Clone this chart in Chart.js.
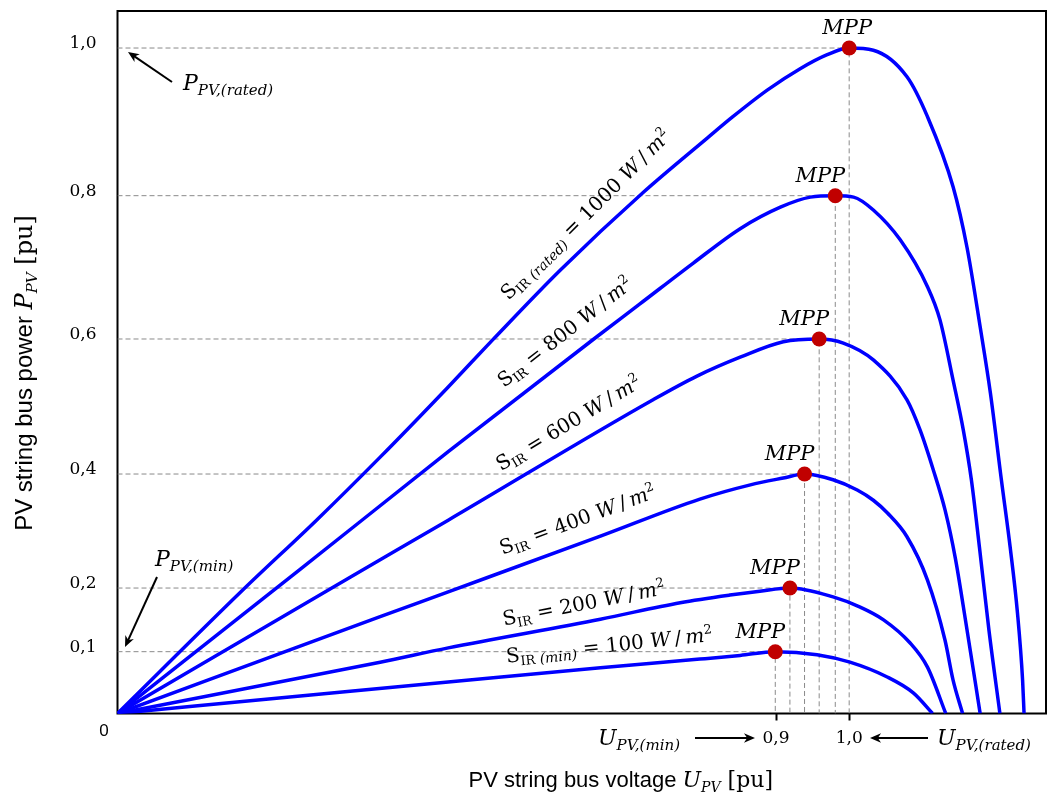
<!DOCTYPE html>
<html>
<head>
<meta charset="utf-8">
<title>PV string P-U curves</title>
<script src="https://cdn.jsdelivr.net/npm/chart.js@4.4.0/dist/chart.umd.min.js"></script>
<style>
  html, body { margin: 0; padding: 0; background: #fff; }
  canvas { display: block; }
</style>
</head>
<body>
<canvas id="pvChart" width="1048" height="799"></canvas>
<script>
// P-U curves of a PV string (voltage and power in pu)
const voltage1000 = [0, 0.174, 0.272, 0.359, 0.452, 0.513, 0.605, 0.718, 0.806, 0.841, 0.888, 0.933, 0.970, 1.000, 1.033, 1.079, 1.107, 1.142, 1.161, 1.179, 1.193, 1.208, 1.220, 1.230, 1.237, 1.239];
const power1000   = [0, 0.200, 0.319, 0.425, 0.529, 0.599, 0.696, 0.804, 0.878, 0.907, 0.943, 0.972, 0.991, 1.000, 0.997, 0.961, 0.907, 0.812, 0.728, 0.617, 0.520, 0.390, 0.272, 0.161, 0.054, 0];

const voltage800 = [0, 0.250, 0.452, 0.651, 0.714, 0.787, 0.851, 0.906, 0.947, 0.981, 1.006, 1.033, 1.070, 1.107, 1.124, 1.142, 1.156, 1.167, 1.178, 1.191, 1.206];
const power800   = [0, 0.233, 0.433, 0.600, 0.649, 0.706, 0.754, 0.784, 0.798, 0.800, 0.798, 0.780, 0.738, 0.673, 0.627, 0.539, 0.465, 0.390, 0.272, 0.134, 0];

const voltage600 = [0, 0.318, 0.452, 0.732, 0.792, 0.851, 0.910, 0.959, 0.992, 1.033, 1.079, 1.097, 1.115, 1.131, 1.145, 1.160, 1.179];
const power600   = [0, 0.219, 0.319, 0.510, 0.545, 0.573, 0.596, 0.600, 0.594, 0.569, 0.510, 0.465, 0.406, 0.337, 0.253, 0.142, 0];

const voltage400 = [0, 0.359, 0.452, 0.660, 0.796, 0.865, 0.910, 0.939, 0.978, 1.011, 1.033, 1.052, 1.079, 1.107, 1.131, 1.142, 1.155];
const power400   = [0, 0.155, 0.194, 0.291, 0.356, 0.381, 0.393, 0.400, 0.390, 0.372, 0.354, 0.332, 0.290, 0.214, 0.118, 0.054, 0];

const voltage200 = [0, 0.359, 0.452, 0.660, 0.769, 0.837, 0.878, 0.919, 0.978, 1.015, 1.047, 1.083, 1.107, 1.132];
const power200   = [0, 0.083, 0.106, 0.151, 0.177, 0.189, 0.195, 0.200, 0.186, 0.170, 0.150, 0.114, 0.075, 0];

const voltage100 = [0, 0.318, 0.452, 0.660, 0.796, 0.851, 0.899, 0.956, 1.001, 1.052, 1.088, 1.114];
const power100   = [0, 0.036, 0.051, 0.074, 0.088, 0.094, 0.100, 0.095, 0.083, 0.059, 0.033, 0];

// maximum power points, top curve first
const mppVoltage = [1.000, 0.981, 0.959, 0.939, 0.919, 0.899];
const mppPower   = [1.0, 0.8, 0.6, 0.4, 0.2, 0.1];

const xTickValues = [0.9, 1.0];
const yTickValues = [0.1, 0.2, 0.4, 0.6, 0.8, 1.0];

const SERIF = '"DejaVu Serif", serif';
const SANS = '"Liberation Sans", Arial, sans-serif';
const rm = s => `${s}px ${SERIF}`;
const it = s => `italic ${s}px ${SERIF}`;

// the power axis in the figure is schematic: equal steps are not equally spaced
const yStops = [0, 0.1, 0.2, 0.4, 0.6, 0.8, 1.0, 1.1];
const yStopFrac = [0, 0.088, 0.1786, 0.3409, 0.5331, 0.7371, 0.9473, 1];

function warp(v) {
  for (let i = 1; i < yStops.length; i++) {
    if (v <= yStops[i] || i === yStops.length - 1) {
      const t = (v - yStops[i - 1]) / (yStops[i] - yStops[i - 1]);
      return yStopFrac[i - 1] + t * (yStopFrac[i] - yStopFrac[i - 1]);
    }
  }
}
function unwarp(f) {
  for (let i = 1; i < yStopFrac.length; i++) {
    if (f <= yStopFrac[i] || i === yStopFrac.length - 1) {
      const t = (f - yStopFrac[i - 1]) / (yStopFrac[i] - yStopFrac[i - 1]);
      return yStops[i - 1] + t * (yStops[i] - yStops[i - 1]);
    }
  }
}

class WarpScale extends Chart.LinearScale {
  getPixelForValue(value) {
    return value === null ? NaN : this.getPixelForDecimal(warp(value));
  }
  getValueForPixel(pixel) {
    return unwarp(this.getDecimalForPixel(pixel));
  }
}
WarpScale.id = 'warp';
WarpScale.defaults = Chart.LinearScale.defaults;
Chart.register(WarpScale);

function toPoints(us, ps) {
  return us.map((u, i) => ({ x: u, y: ps[i] }));
}

const curves = [
  [voltage1000, power1000],
  [voltage800, power800],
  [voltage600, power600],
  [voltage400, power400],
  [voltage200, power200],
  [voltage100, power100]
];

const datasets = [];

mppVoltage.forEach((u, i) => {
  datasets.push({
    data: [{ x: 0, y: mppPower[i] }, { x: u, y: mppPower[i] }, { x: u, y: 0 }],
    showLine: true,
    borderColor: '#8a8a8a',
    borderWidth: 1,
    borderDash: [5, 3],
    pointRadius: 0,
    tension: 0,
    order: 2
  });
});

curves.forEach(([us, ps]) => {
  datasets.push({
    data: toPoints(us, ps),
    showLine: true,
    borderColor: '#0000ff',
    borderWidth: 3.5,
    pointRadius: 0,
    cubicInterpolationMode: 'monotone',
    order: 1
  });
});

datasets.push({
  data: toPoints(mppVoltage, mppPower),
  showLine: false,
  pointRadius: 7.5,
  pointBackgroundColor: '#c00000',
  pointBorderColor: '#c00000',
  pointBorderWidth: 0,
  order: 0
});

function drawRich(ctx, x, y, parts, align = 'left', angle = 0) {
  ctx.save();
  ctx.translate(x, y);
  if (angle) ctx.rotate(angle * Math.PI / 180);
  ctx.textBaseline = 'alphabetic';
  ctx.textAlign = 'left';
  ctx.fillStyle = '#000';
  let total = 0;
  const widths = parts.map(([t, f]) => {
    ctx.font = f;
    const w = ctx.measureText(t).width;
    total += w;
    return w;
  });
  let cx = align === 'center' ? -total / 2 : align === 'right' ? -total : 0;
  parts.forEach(([t, f, dy = 0], i) => {
    ctx.font = f;
    ctx.fillText(t, cx, dy);
    cx += widths[i];
  });
  ctx.restore();
}

function arrow(ctx, x1, y1, x2, y2) {
  const a = Math.atan2(y2 - y1, x2 - x1);
  const h = 12;
  ctx.save();
  ctx.strokeStyle = '#000';
  ctx.fillStyle = '#000';
  ctx.lineWidth = 2;
  ctx.beginPath();
  ctx.moveTo(x1, y1);
  ctx.lineTo(x2 - 6 * Math.cos(a), y2 - 6 * Math.sin(a));
  ctx.stroke();
  ctx.beginPath();
  ctx.moveTo(x2, y2);
  ctx.lineTo(x2 - h * Math.cos(a - 0.4), y2 - h * Math.sin(a - 0.4));
  ctx.lineTo(x2 - h * 0.65 * Math.cos(a), y2 - h * 0.65 * Math.sin(a));
  ctx.lineTo(x2 - h * Math.cos(a + 0.4), y2 - h * Math.sin(a + 0.4));
  ctx.closePath();
  ctx.fill();
  ctx.restore();
}

const wm = (n) => [[' = ' + n + ' ', rm(20)], ['W', it(20)], ['\u2009/\u2009', rm(20)], ['m', it(20)], ['2', rm(13), -8]];

// labels written along the curves: anchor in data units, angle in degrees
const curveLabels = [
  { u: 0.646, p: 0.773, angle: -45, parts: [['S', rm(20)], ['IR', rm(13), 4], [' (rated)', it(14), 4], ...wm(1000)] },
  { u: 0.617, p: 0.608, angle: -38, parts: [['S', rm(20)], ['IR', rm(13), 4], ...wm(800)] },
  { u: 0.621, p: 0.473, angle: -31, parts: [['S', rm(20)], ['IR', rm(13), 4], ...wm(600)] },
  { u: 0.632, p: 0.316, angle: -20.5, parts: [['S', rm(20)], ['IR', rm(13), 4], ...wm(400)] },
  { u: 0.639, p: 0.172, angle: -11, parts: [['S', rm(20)], ['IR', rm(13), 4], ...wm(200)] },
  { u: 0.673, p: 0.106, angle: -6, parts: [['S', rm(20)], ['IR', rm(13), 4], [' (min)', it(14), 4], ...wm(100)] }
];

const frame = {
  id: 'frame',
  beforeDatasetsDraw(chart) {
    const { ctx, chartArea: a } = chart;
    ctx.save();
    ctx.strokeStyle = '#000';
    ctx.lineWidth = 2;
    ctx.strokeRect(a.left, a.top, a.right - a.left, a.bottom - a.top);
    ctx.restore();
  }
};

const notes = {
  id: 'notes',
  afterDraw(chart) {
    const { ctx } = chart;
    const xs = chart.scales.x, ys = chart.scales.y;
    const X = v => xs.getPixelForValue(v);
    const Y = v => ys.getPixelForValue(v);

    curveLabels.forEach(l => {
      drawRich(ctx, X(l.u), Y(l.p) + 4, l.parts, 'center', l.angle);
    });

    mppVoltage.forEach((u, i) => {
      drawRich(ctx, X(u) + (i === 0 ? -2 : -15), Y(mppPower[i]) - 14, [['MPP', it(21)]], 'center');
    });

    // origin label
    ctx.save();
    ctx.font = `17px ${SANS}`;
    ctx.fillStyle = '#000';
    ctx.textAlign = 'center';
    ctx.textBaseline = 'middle';
    ctx.fillText('0', 104, 731);
    ctx.restore();

    // rated / min markers with arrows
    arrow(ctx, 172, 82, 128, 52);
    drawRich(ctx, 183, 90, [['P', it(22)], ['PV,(rated)', it(15), 5]]);
    arrow(ctx, 157, 577, 125, 647);
    drawRich(ctx, 155, 566, [['P', it(22)], ['PV,(min)', it(15), 5]]);
    drawRich(ctx, 598, 745, [['U', it(22)], ['PV,(min)', it(15), 5]]);
    arrow(ctx, 695, 738, 755, 738);
    arrow(ctx, 928, 738, 870, 738);
    drawRich(ctx, 937, 745, [['U', it(22)], ['PV,(rated)', it(15), 5]]);

    // axis titles
    drawRich(ctx, 773, 787, [['PV string bus voltage ', `22px ${SANS}`], ['U', it(22)], ['PV', it(14), 5], [' [pu]', rm(22)]], 'right');
    drawRich(ctx, 32, 373, [['PV string bus power ', `24px ${SANS}`], ['P', it(24)], ['PV', it(15), 5], [' [pu]', rm(24)]], 'center', -90);
  }
};

const commaLabel = v => Number(v).toFixed(1).replace('.', ',');

// keep the plot box at a fixed place: no extra room for end labels
function fixBox(s, size) {
  if (s.isHorizontal()) s.height = size; else s.width = size;
  s.paddingTop = 0;
  s.paddingBottom = 0;
  s.paddingLeft = 0;
  s.paddingRight = 0;
}

new Chart(document.getElementById('pvChart'), {
  type: 'scatter',
  data: { datasets },
  options: {
    responsive: false,
    animation: false,
    devicePixelRatio: 1,
    layout: { autoPadding: false, padding: { top: 11, right: 2, left: 0, bottom: 0 } },
    plugins: { legend: { display: false }, tooltip: { enabled: false } },
    scales: {
      x: {
        type: 'linear',
        min: 0,
        max: 1.269,
        border: { display: false },
        grid: { drawOnChartArea: false, drawTicks: true, tickLength: 7, tickWidth: 2, tickColor: '#000' },
        ticks: { font: { family: SERIF, size: 17 }, color: '#000', padding: 8, autoSkip: false, maxRotation: 0, callback: commaLabel },
        afterBuildTicks: s => { s.ticks = xTickValues.map(v => ({ value: v })); },
        afterFit: s => fixBox(s, 85.5)
      },
      y: {
        type: 'warp',
        min: 0,
        max: 1.1,
        border: { display: false },
        grid: { display: false, drawTicks: false },
        ticks: { font: { family: SERIF, size: 17 }, color: '#000', padding: 21, labelOffset: -4, autoSkip: false, callback: commaLabel },
        afterBuildTicks: s => { s.ticks = yTickValues.map(v => ({ value: v })); },
        afterFit: s => fixBox(s, 117.5)
      }
    }
  },
  plugins: [frame, notes]
});
</script>
</body>
</html>
